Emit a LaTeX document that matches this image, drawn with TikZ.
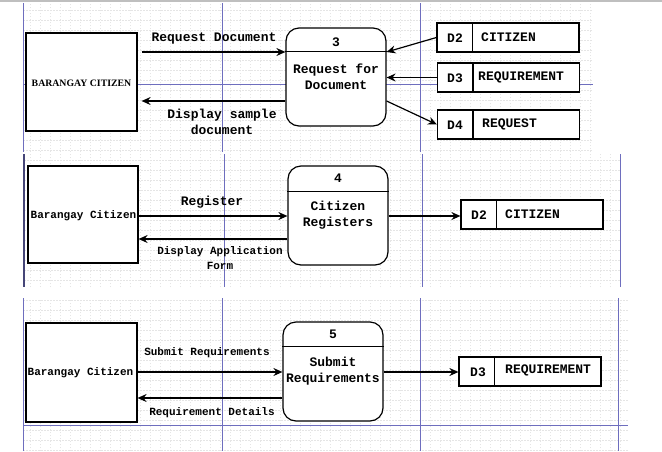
\documentclass[tikz,border=0pt]{standalone}
\usepackage{fontspec}
\setmainfont{Liberation Serif}
\setmonofont{Liberation Mono}
\usetikzlibrary{arrows.meta}
\definecolor{pb}{RGB}{110,110,190}
\definecolor{pbd}{RGB}{70,70,120}
\tikzset{
 gridl/.style={draw=black!10, line width=0.4pt, dash pattern=on 1.5pt off 1.5pt},
 pagebrk/.style={draw=pb, line width=0.8pt},
 ent/.style={draw, fill=white, line width=1.2pt, inner sep=0pt},
 proc/.style={draw, fill=white, line width=1.2pt, rounded corners=13pt, inner sep=0pt, minimum width=100pt},
 store/.style={draw, fill=white, line width=1.2pt, inner sep=0pt, minimum width=142pt, minimum height=29pt},
 divl/.style={line width=1.2pt},
 flow/.style={line width=1.2pt, -{Stealth[length=9pt,width=8pt,inset=3pt]}},
 big/.style={font=\ttfamily\bfseries\fontsize{13}{16}\selectfont, align=center, inner sep=0pt},
 small/.style={font=\ttfamily\bfseries\fontsize{11}{15}\selectfont, align=center, inner sep=0pt},
 serifb/.style={font=\rmfamily\bfseries\fontsize{9.8}{11}\selectfont, inner sep=0pt},
}
\begin{document}
\begin{tikzpicture}[x=1pt,y=-1pt]
\useasboundingbox (0,0) rectangle (662,451);
\fill[white] (0,0) rectangle (662,451);
\draw[black!25, line width=1.5pt] (0,1) -- (662,1);
% ---------- grids and page breaks ----------
\draw[gridl, step=10pt] (23,3) grid (593,152);
\draw[gridl, step=10pt] (24,154) grid (621,287);
\draw[gridl, step=10pt] (23,298) grid (628,451);
\foreach \xx in {23,222,420} \draw[pagebrk] (\xx,3) -- (\xx,152);
\draw[pagebrk] (23,84) -- (593,84);
\foreach \xx in {224,422,620} \draw[pagebrk] (\xx,154) -- (\xx,287);
\draw[pbd, line width=1.5pt] (24,154) -- (24,287);
\foreach \xx in {23,222,420,618} \draw[pagebrk] (\xx,298) -- (\xx,451);
\draw[pagebrk] (23,425) -- (628,425);
% ---------- helper levels ----------
\coordinate (y52) at (0,52);
\coordinate (y101) at (0,101);
\coordinate (y216) at (0,216);
\coordinate (y239) at (0,239);
\coordinate (y372) at (0,372);
\coordinate (y398) at (0,398);
% ---------- panel 1 ----------
\node[ent, minimum width=111pt, minimum height=98pt] (e1) at (81.5,82) {};
\node[serifb] (e1t) at (81.5,83) {BARANGAY CITIZEN};
\node[proc, minimum height=98pt] (p3) at (336,77) {};
\draw[divl] ([yshift=-24pt]p3.north west) -- ([yshift=-24pt]p3.north east);
\node[big] (p3n) at (336,42) {3};
\node[big] (p3t) at (336,77) {Request for\\Document};
\node[store] (s1) at (508,37.5) {};
\draw[divl] ([xshift=36pt]s1.north west) -- ([xshift=36pt]s1.south west);
\node[big] (s1a) at (455,38) {D2};
\node[big, anchor=west] (s1b) at (481,37) {CITIZEN};
\node[store] (s2) at (508.5,77.5) {};
\draw[divl] ([xshift=36pt]s2.north west) -- ([xshift=36pt]s2.south west);
\node[big] (s2a) at (455,78) {D3};
\node[big, anchor=west] (s2b) at (478,77) {REQUIREMENT};
\node[store] (s3) at (508.5,124.5) {};
\draw[divl] ([xshift=36pt]s3.north west) -- ([xshift=36pt]s3.south west);
\node[big] (s3a) at (455,125) {D4};
\node[big, anchor=west] (s3b) at (482,124) {REQUEST};
\draw[flow] ([xshift=4pt]e1.east |- y52) -- (p3.west |- y52);
\draw[flow] (p3.west |- y101) -- ([xshift=4pt]e1.east |- y101);
\node[big] (l1) at (214,39) {Request Document};
\node[big] (l2) at (222,122) {Display sample\\document};
\draw[flow] (s1.west) -- (p3.east |- y52);
\draw[flow] (s2.west) -- (p3.east |- s2.west);
\draw[flow] (p3.east |- y101) -- (s3.west);
% ---------- panel 2 ----------
\node[ent, minimum width=110pt, minimum height=97pt] (e2) at (83,214.5) {};
\node[small] (e2t) at (83.5,216) {Barangay Citizen};
\node[proc, minimum height=99pt] (p4) at (338,215.5) {};
\draw[divl] ([yshift=-26pt]p4.north west) -- ([yshift=-26pt]p4.north east);
\node[big] (p4n) at (338,178) {4};
\node[big] (p4t) at (338,215) {Citizen\\Registers};
\node[store] (s4) at (532,214.5) {};
\draw[divl] ([xshift=36pt]s4.north west) -- ([xshift=36pt]s4.south west);
\node[big] (s4a) at (479,215) {D2};
\node[big, anchor=west] (s4b) at (505,214) {CITIZEN};
\draw[flow] (e2.east |- y216) -- (p4.west |- y216);
\draw[flow] (p4.west |- y239) -- (e2.east |- y239);
\draw[flow] (p4.east |- y216) -- (s4.west |- y216);
\node[big] (l3) at (212,202) {Register};
\node[small] (l4) at (220,258) {Display Application\\Form};
% ---------- panel 3 ----------
\node[ent, minimum width=111pt, minimum height=99pt] (e3) at (81.5,372.5) {};
\node[small] (e3t) at (80.5,373) {Barangay Citizen};
\node[proc, minimum height=99pt] (p5) at (333,371.5) {};
\draw[divl] ([yshift=-25pt]p5.north west) -- ([yshift=-25pt]p5.north east);
\node[big] (p5n) at (333,334) {5};
\node[big] (p5t) at (333,371.5) {Submit\\Requirements};
\node[store] (s5) at (530,371.5) {};
\draw[divl] ([xshift=36pt]s5.north west) -- ([xshift=36pt]s5.south west);
\node[big] (s5a) at (478,372) {D3};
\node[big, anchor=west] (s5b) at (505,370) {REQUIREMENT};
\draw[flow] (e3.east |- y372) -- (p5.west |- y372);
\draw[flow] (p5.west |- y398) -- (e3.east |- y398);
\draw[flow] (p5.east |- y372) -- (s5.west |- y372);
\node[small] (l5) at (207,353) {Submit Requirements};
\node[small] (l6) at (212,413) {Requirement Details};
\end{tikzpicture}
\end{document}
